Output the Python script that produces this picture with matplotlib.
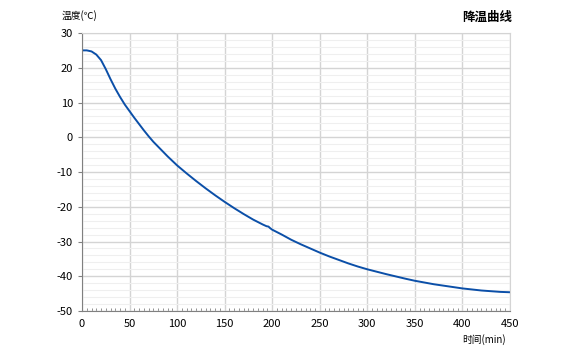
import matplotlib
matplotlib.use("Agg")
import matplotlib.pyplot as plt
from matplotlib.ticker import MultipleLocator

plt.rcParams['font.family'] = ['Noto Sans CJK SC', 'DejaVu Sans']
plt.rcParams['axes.unicode_minus'] = False

# time (min) vs temperature (C)
t = [0, 5, 10, 15, 20, 25, 30, 35, 40, 45, 50, 55, 60, 65, 70, 75, 80, 85, 90, 95,
     100, 110, 120, 130, 140, 150, 160, 170, 180, 190, 194, 196, 198, 200, 210, 220,
     230, 240, 250, 260, 270, 280, 290, 300, 320, 340, 350, 370, 400, 420, 440, 450]
temp = [25.0, 25.0, 24.7, 23.8, 22.2, 19.6, 16.7, 14.0, 11.6, 9.4, 7.5, 5.6, 3.8, 2.0,
        0.3, -1.3, -2.7, -4.1, -5.5, -6.8, -8.1, -10.4, -12.6, -14.7, -16.7, -18.6,
        -20.4, -22.1, -23.7, -25.1, -25.6, -25.7, -26.2, -26.6, -28.0, -29.5, -30.8,
        -32.0, -33.2, -34.3, -35.3, -36.3, -37.2, -38.0, -39.4, -40.7, -41.3, -42.3,
        -43.5, -44.1, -44.5, -44.6]

fig = plt.figure(figsize=(5.8, 3.5), dpi=100)
ax = fig.add_axes([0.1414, 0.1114, 0.7379, 0.7943])

ax.plot(t, temp, color='#0b4fa8', lw=1.4)

ax.set_xlim(0, 450)
ax.set_ylim(-50, 30)
ax.xaxis.set_major_locator(MultipleLocator(50))
ax.xaxis.set_minor_locator(MultipleLocator(5))
ax.yaxis.set_major_locator(MultipleLocator(10))
ax.yaxis.set_minor_locator(MultipleLocator(2))

ax.grid(which='major', color='#d4d4d4', lw=1.0)
ax.grid(which='minor', axis='y', color='#efefef', lw=0.8)
ax.set_axisbelow(True)

for s in ['top', 'right']:
    ax.spines[s].set_color('#d4d4d4')
for s in ['left', 'bottom']:
    ax.spines[s].set_color('#808080')

ax.tick_params(axis='both', which='major', labelsize=8, colors='#808080',
               labelcolor='black', length=3)
ax.tick_params(axis='x', which='major', length=0, pad=6)
ax.tick_params(axis='x', which='minor', direction='in', length=2, colors='#808080')
ax.tick_params(axis='y', which='minor', length=0)

fig.text(0.883, 0.95, '降温曲线', ha='right', va='center', fontsize=9, fontweight='bold')
fig.text(0.107, 0.955, '温度(℃)', ha='left', va='center', fontsize=7)
fig.text(0.872, 0.03, '时间(min)', ha='right', va='center', fontsize=7)

fig.savefig('out.png', dpi=100)
